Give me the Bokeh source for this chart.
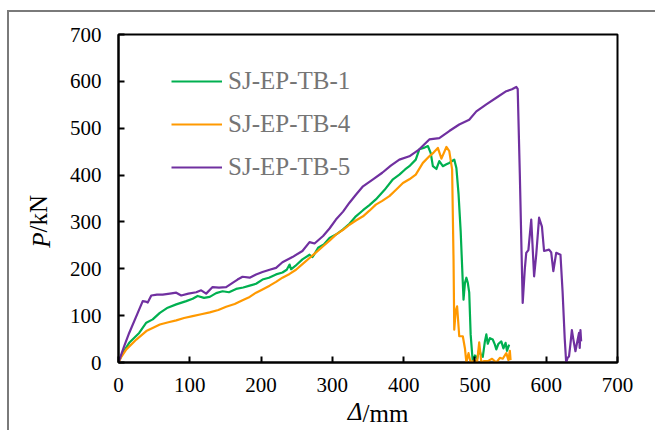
import math
from bokeh.plotting import figure
from bokeh.models import (Range1d, FixedTicker, Legend, LegendItem, Label)
from bokeh.embed import file_html
from bokeh.resources import INLINE

# ---------------- data ----------------
series_names = ["SJ-EP-TB-1", "SJ-EP-TB-4", "SJ-EP-TB-5"]
series_colors = ["#00B050", "#FF9900", "#7030A0"]

tb1_d = [0, 5, 15, 29, 39, 48, 58, 69, 81, 95,
         104, 111, 120, 128, 137, 146, 155, 165, 175, 184,
         193, 202, 211, 221, 230, 236, 240, 242, 248, 258,
         268, 272, 275, 280, 288, 296, 305, 315, 324, 333,
         343, 352, 361, 373, 385, 394, 402, 408, 417, 422,
         428, 434, 438, 441, 446, 450, 455, 460, 464, 468,
         471, 474, 477, 480, 483, 484, 486, 488, 490, 492,
         494, 497, 500, 503, 506, 508, 511, 514, 516, 518,
         521, 525, 528, 530, 533, 537, 540, 543, 545, 548]
tb1_p = [0, 18, 42, 63, 85, 92, 106, 117, 124, 131,
         136, 142, 138, 140, 148, 152, 150, 157, 160, 164,
         168, 177, 181, 188, 192, 198, 209, 199, 206, 220,
         230, 225, 232, 245, 252, 266, 273, 284, 296, 312,
         325, 336, 348, 368, 391, 401, 412, 419, 433, 455,
         458, 462, 447, 419, 413, 430, 419, 423, 426, 430,
         433, 415, 360, 280, 170, 134, 170, 181, 170, 149,
         60, 0, 15, 8, 28, 18, 12, 45, 60, 40,
         52, 49, 38, 28, 40, 45, 30, 42, 25, 38]

tb4_d = [0, 4, 11, 25, 39, 50, 58, 70, 81, 92,
         104, 116, 128, 140, 151, 163, 174, 184, 193, 202,
         212, 221, 230, 240, 249, 258, 268, 278, 287, 296,
         305, 315, 324, 333, 343, 352, 361, 370, 380, 389,
         399, 408, 417, 427, 436, 442, 448, 453, 460, 464,
         468, 470, 471, 473, 475, 478, 483, 486, 488, 491,
         494, 500, 503, 506, 509, 513, 518, 524, 530, 535,
         539, 544, 547, 549, 550]
tb4_p = [0, 12, 28, 49, 67, 75, 81, 86, 90, 95,
         99, 103, 107, 112, 119, 125, 133, 140, 149, 156,
         164, 172, 181, 189, 198, 210, 223, 236, 248, 260,
         273, 283, 294, 303, 312, 324, 337, 345, 355, 368,
         383, 391, 401, 426, 440, 448, 458, 435, 460, 451,
         412, 220, 70, 110, 120, 56, 56, 30, 0, 20,
         0, 5, 0, 43, 0, 3, 3, 8, 0, 10,
         8, 20, 5, 25, 5]

tb5_d = [0, 8, 15, 27, 34, 38, 41, 46, 54, 62,
         72, 81, 88, 98, 109, 116, 123, 132, 141, 151,
         160, 167, 174, 184, 193, 202, 212, 221, 230, 244,
         258, 268, 275, 287, 296, 305, 315, 324, 333, 343,
         357, 370, 382, 394, 408, 422, 436, 450, 464, 478,
         492, 502, 516, 530, 544, 552, 558, 560, 563, 567,
         570, 572, 575, 579, 583, 586, 590, 594, 597, 604,
         607, 610, 614, 617, 620, 623, 626, 628, 630, 632,
         634, 636, 638, 641, 643, 646, 647, 648, 649]
tb5_p = [0, 35, 63, 106, 131, 130, 128, 143, 145, 145,
         147, 149, 143, 147, 150, 154, 147, 161, 160, 161,
         170, 177, 183, 181, 188, 193, 198, 202, 214, 225,
         238, 257, 254, 270, 286, 305, 322, 341, 358, 376,
         391, 405, 420, 433, 440, 455, 476, 479, 494, 508,
         518, 536, 551, 565, 579, 583, 588, 584, 400, 127,
         200, 234, 240, 305, 184, 230, 309, 290, 238, 241,
         235, 195, 234, 232, 230, 150, 50, 0, 10, 13,
         40, 69, 50, 24, 40, 63, 31, 69, 45]

x_ticks = [0, 100, 200, 300, 400, 500, 600, 700]
y_ticks = [0, 100, 200, 300, 400, 500, 600, 700]

SERIF = "Liberation Serif"

p = figure(output_backend="svg", toolbar_location=None,
           frame_width=499, frame_height=328,
           min_border_left=109, min_border_right=38,
           min_border_top=22, min_border_bottom=52,
           x_range=Range1d(0, 700), y_range=Range1d(0, 700))
# thin grey frame seen along the top and left of the reference picture
p.styles = {"margin-left": "7px", "margin-top": "10px",
            "border-top": "2px solid #7a7a7a", "border-left": "2px solid #7a7a7a"}

p.xgrid.visible = False
p.ygrid.visible = False
p.outline_line_color = "black"
p.outline_line_width = 2
p.background_fill_color = "white"
p.border_fill_color = "white"

axes = [(p.xaxis[0], x_ticks), (p.yaxis[0], y_ticks)]
for ax, ticks in axes:
    ax.ticker = FixedTicker(ticks=ticks)
    ax.axis_line_color = "black"
    ax.axis_line_width = 2
    ax.major_tick_line_color = "black"
    ax.major_tick_line_width = 2
    ax.major_tick_in = 6
    ax.major_tick_out = 0
    ax.minor_tick_line_color = None
    ax.major_label_text_font = SERIF
    ax.major_label_text_font_size = "21px"
    ax.major_label_text_color = "black"
p.xaxis[0].major_label_standoff = 15
p.yaxis[0].major_label_standoff = 17

renderers = []
for xs, ys, col in ((tb1_d, tb1_p, series_colors[0]),
                    (tb4_d, tb4_p, series_colors[1]),
                    (tb5_d, tb5_p, series_colors[2])):
    r = p.line(xs, ys, line_color=col, line_width=2.2, line_join="round")
    renderers.append(r)

legend = Legend(items=[LegendItem(label=n, renderers=[r]) for n, r in zip(series_names, renderers)],
                location=(53, 181), orientation="vertical",
                glyph_width=51, glyph_height=28, label_height=28,
                label_standoff=6, spacing=15, padding=0, margin=0,
                background_fill_alpha=0, border_line_alpha=0,
                label_text_font=SERIF, label_text_font_size="25px",
                label_text_color="#757575")
p.add_layout(legend)

# axis titles (italic symbol + upright unit), placed in the side panels
lab_kw = dict(x_units="screen", y_units="screen", text_font=SERIF,
              text_font_size="25px", text_color="black", text_baseline="alphabetic")
p.add_layout(Label(x=244, y=10, text="Δ", text_font_style="italic", text_align="right", **lab_kw), "below")
p.add_layout(Label(x=244, y=35, text="/mm", text_align="left", **lab_kw), "below")
p.add_layout(Label(x=2, y=130, angle=math.pi / 2, text="P", text_font_style="italic",
                   text_align="right", **lab_kw), "left")
p.add_layout(Label(x=26, y=130, angle=math.pi / 2, text="/kN", text_align="left", **lab_kw), "left")

open("out.html", "w").write(file_html(p, INLINE))
